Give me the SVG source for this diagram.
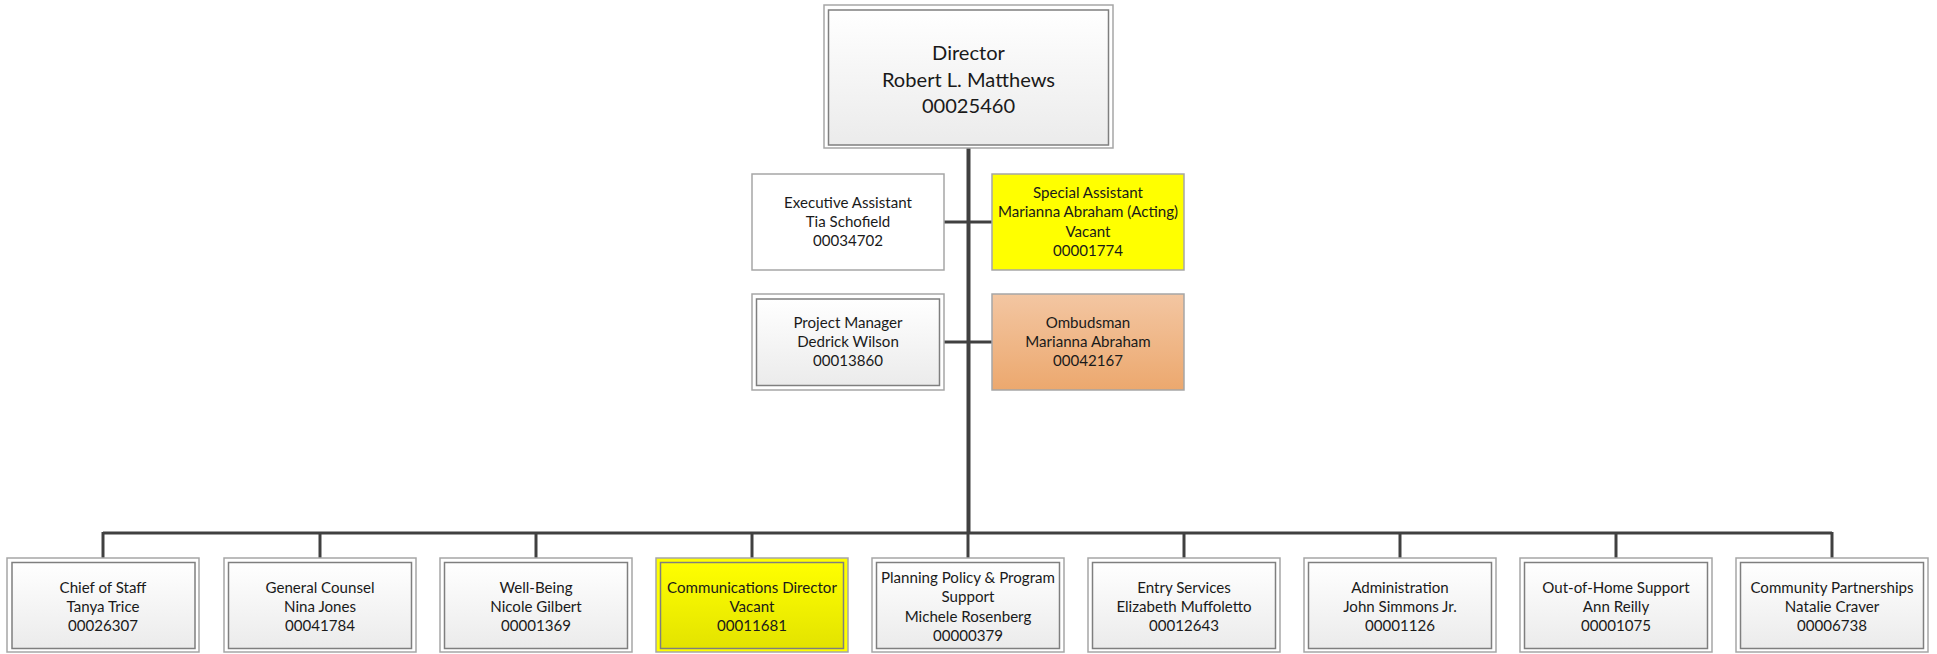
<svg xmlns="http://www.w3.org/2000/svg" width="1937" height="654" viewBox="0 0 1937 654">
  <defs>
    <linearGradient id="gGray" x1="0" y1="0" x2="0" y2="1">
      <stop offset="0" stop-color="#ffffff"/>
      <stop offset="1" stop-color="#ebebeb"/>
    </linearGradient>
    <linearGradient id="gYellow" x1="0" y1="0" x2="0" y2="1">
      <stop offset="0" stop-color="#ffff00"/>
      <stop offset="1" stop-color="#e3e300"/>
    </linearGradient>
    <linearGradient id="gOrange" x1="0" y1="0" x2="0" y2="1">
      <stop offset="0" stop-color="#f3c6a2"/>
      <stop offset="1" stop-color="#eca86e"/>
    </linearGradient>
  </defs>
  <style>
    .outer { fill: #ffffff; stroke: #a6a6a6; stroke-width: 1.5; }
    .outerY { fill: #ffff00; stroke: #a6a6a6; stroke-width: 1.5; }
    .inner { fill: url(#gGray); stroke: #7f7f7f; stroke-width: 1.5; }
    .innerY { fill: url(#gYellow); stroke: #7f7f7f; stroke-width: 1.5; }
    .plain { fill: #ffffff; stroke: #a6a6a6; stroke-width: 1.5; }
    .yellow { fill: #ffff00; stroke: #a6a6a6; stroke-width: 1.5; }
    .orange { fill: url(#gOrange); stroke: #a6a6a6; stroke-width: 1.5; }
    text { font-family: Lato, "Open Sans", "Liberation Sans", sans-serif; fill: #1a1a1a; text-anchor: middle; }
    .t { font-size: 15.1px; }
    .tl { font-size: 20.1px; }
    .conn { stroke: #404040; stroke-width: 3; fill: none; }
    .trunk { stroke: #404040; stroke-width: 4; fill: none; }
  </style>

  <!-- connectors -->
  <g id="connectors">
    <line class="trunk" x1="968.5" y1="148" x2="968.5" y2="534"/>
    <line class="conn" x1="944" y1="222" x2="992" y2="222"/>
    <line class="conn" x1="944" y1="342" x2="992" y2="342"/>
    <line class="conn" x1="103" y1="533" x2="1832" y2="533"/>
    <line class="conn" x1="103" y1="532" x2="103" y2="558"/>
    <line class="conn" x1="320" y1="532" x2="320" y2="558"/>
    <line class="conn" x1="536" y1="532" x2="536" y2="558"/>
    <line class="conn" x1="752" y1="532" x2="752" y2="558"/>
    <line class="conn" x1="968" y1="532" x2="968" y2="558"/>
    <line class="conn" x1="1184" y1="532" x2="1184" y2="558"/>
    <line class="conn" x1="1400" y1="532" x2="1400" y2="558"/>
    <line class="conn" x1="1616" y1="532" x2="1616" y2="558"/>
    <line class="conn" x1="1832" y1="532" x2="1832" y2="558"/>
  </g>

  <!-- top -->
  <g id="director">
    <rect class="outer" x="824" y="5" width="289" height="143"/>
    <rect class="inner" x="828.5" y="10" width="280" height="135"/>
    <text class="tl" x="968.5" y="60">Director</text>
    <text class="tl" x="968.5" y="87">Robert L. Matthews</text>
    <text class="tl" x="968.5" y="113">00025460</text>
  </g>

  <!-- staff beside the trunk -->
  <g id="executive-assistant">
    <rect class="plain" x="752" y="174" width="192" height="96"/>
    <text class="t" x="848" y="208">Executive Assistant</text>
    <text class="t" x="848" y="227">Tia Schofield</text>
    <text class="t" x="848" y="246">00034702</text>
  </g>
  <g id="special-assistant">
    <rect class="yellow" x="992" y="174" width="192" height="96"/>
    <text class="t" x="1088" y="198">Special Assistant</text>
    <text class="t" x="1088" y="217">Marianna Abraham (Acting)</text>
    <text class="t" x="1088" y="236.5">Vacant</text>
    <text class="t" x="1088" y="256">00001774</text>
  </g>
  <g id="project-manager">
    <rect class="outer" x="752" y="294" width="192" height="96"/>
    <rect class="inner" x="756.5" y="299" width="183" height="86.5"/>
    <text class="t" x="848" y="328">Project Manager</text>
    <text class="t" x="848" y="347">Dedrick Wilson</text>
    <text class="t" x="848" y="366">00013860</text>
  </g>
  <g id="ombudsman">
    <rect class="orange" x="992" y="294" width="192" height="96"/>
    <text class="t" x="1088" y="328">Ombudsman</text>
    <text class="t" x="1088" y="347">Marianna Abraham</text>
    <text class="t" x="1088" y="366">00042167</text>
  </g>

  <!-- division heads -->
  <g id="chief-of-staff">
    <rect class="outer" x="7" y="558" width="192" height="94"/>
    <rect class="inner" x="12" y="562.5" width="183" height="86"/>
    <text class="t" x="103" y="593">Chief of Staff</text>
    <text class="t" x="103" y="612">Tanya Trice</text>
    <text class="t" x="103" y="631">00026307</text>
  </g>
  <g id="general-counsel">
    <rect class="outer" x="224" y="558" width="192" height="94"/>
    <rect class="inner" x="228.5" y="562.5" width="183" height="86"/>
    <text class="t" x="320" y="593">General Counsel</text>
    <text class="t" x="320" y="612">Nina Jones</text>
    <text class="t" x="320" y="631">00041784</text>
  </g>
  <g id="well-being">
    <rect class="outer" x="440" y="558" width="192" height="94"/>
    <rect class="inner" x="444.5" y="562.5" width="183" height="86"/>
    <text class="t" x="536" y="593">Well-Being</text>
    <text class="t" x="536" y="612">Nicole Gilbert</text>
    <text class="t" x="536" y="631">00001369</text>
  </g>
  <g id="communications-director">
    <rect class="outerY" x="656" y="558" width="192" height="94"/>
    <rect class="innerY" x="660.5" y="562.5" width="183" height="86"/>
    <text class="t" x="752" y="593">Communications Director</text>
    <text class="t" x="752" y="612">Vacant</text>
    <text class="t" x="752" y="631">00011681</text>
  </g>
  <g id="planning-policy">
    <rect class="outer" x="872" y="558" width="192" height="94"/>
    <rect class="inner" x="876.5" y="562.5" width="183" height="86"/>
    <text class="t" x="968" y="583">Planning Policy &amp; Program</text>
    <text class="t" x="968" y="602">Support</text>
    <text class="t" x="968" y="621.5">Michele Rosenberg</text>
    <text class="t" x="968" y="640.5">00000379</text>
  </g>
  <g id="entry-services">
    <rect class="outer" x="1088" y="558" width="192" height="94"/>
    <rect class="inner" x="1092.5" y="562.5" width="183" height="86"/>
    <text class="t" x="1184" y="593">Entry Services</text>
    <text class="t" x="1184" y="612">Elizabeth Muffoletto</text>
    <text class="t" x="1184" y="631">00012643</text>
  </g>
  <g id="administration">
    <rect class="outer" x="1304" y="558" width="192" height="94"/>
    <rect class="inner" x="1308.5" y="562.5" width="183" height="86"/>
    <text class="t" x="1400" y="593">Administration</text>
    <text class="t" x="1400" y="612">John Simmons Jr.</text>
    <text class="t" x="1400" y="631">00001126</text>
  </g>
  <g id="out-of-home-support">
    <rect class="outer" x="1520" y="558" width="192" height="94"/>
    <rect class="inner" x="1524.5" y="562.5" width="183" height="86"/>
    <text class="t" x="1616" y="593">Out-of-Home Support</text>
    <text class="t" x="1616" y="612">Ann Reilly</text>
    <text class="t" x="1616" y="631">00001075</text>
  </g>
  <g id="community-partnerships">
    <rect class="outer" x="1736" y="558" width="192" height="94"/>
    <rect class="inner" x="1740.5" y="562.5" width="183" height="86"/>
    <text class="t" x="1832" y="593">Community Partnerships</text>
    <text class="t" x="1832" y="612">Natalie Craver</text>
    <text class="t" x="1832" y="631">00006738</text>
  </g>
</svg>
